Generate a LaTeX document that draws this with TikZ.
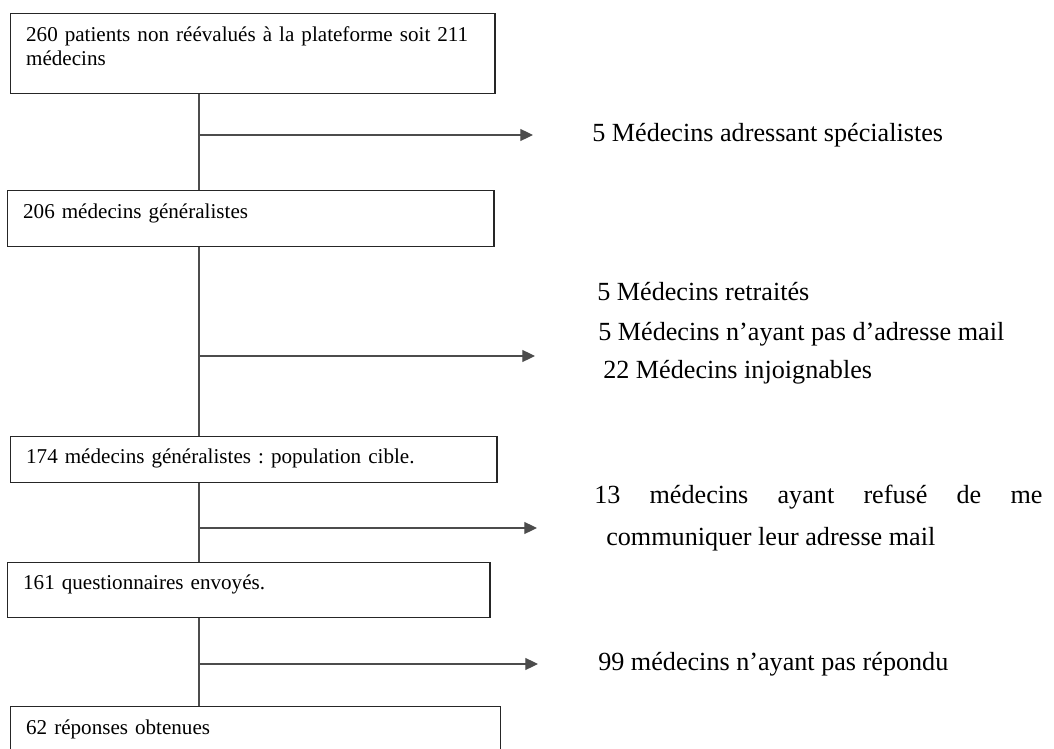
\documentclass[tikz,border=0pt]{standalone}
\usepackage{fontspec}
\setmainfont{Liberation Serif}
\usetikzlibrary{arrows.meta}

\begin{document}
\frenchspacing
\begin{tikzpicture}[x=0.025cm, y=-0.025cm,
  etape/.style={draw, line width=1pt, black!85, text=black, anchor=north west, inner xsep=11pt, inner ysep=0pt,
    align=left, font=\fontsize{15}{16.6}\selectfont},
  motif/.style={anchor=base west, inner sep=0pt, font=\fontsize{18.6}{22}\selectfont},
  lien/.style={line width=0.9pt, black!70},
  fleche/.style={lien, -{Triangle[length=9pt, width=8.5pt]}}]

\useasboundingbox (0,0) rectangle (1054,749);
\clip (0,0) rectangle (1054,749);

% boites du diagramme de flux
\node[etape, text width=322.3pt, text height=19.9pt, text depth=37pt] (b1) at (10,13)
  {260 patients non réévalués à la plateforme soit 211\\médecins};
\node[etape, text width=323.7pt, text height=19.9pt, text depth=19.9pt] (b2) at (7,190)
  {206 médecins généralistes};
\node[etape, text width=323.7pt, text height=19.2pt, text depth=13.5pt] (b3) at (10,436)
  {174 médecins généralistes : population cible.};
\node[etape, text width=320.9pt, text height=19.2pt, text depth=19.9pt] (b4) at (7,562)
  {161 questionnaires envoyés.};
\node[etape, text width=326.5pt, text height=19.9pt, text depth=40pt] (b5) at (10,706)
  {62 réponses obtenues};

% exclusions
\node[motif] (specialistes) at (592,141) {5 Médecins adressant spécialistes};
\node[motif] (retraites) at (597,300) {5 Médecins retraités};
\node[motif] (sansmail) at (598,340) {5 Médecins n’ayant pas d’adresse mail};
\node[motif] (injoignables) at (603,378) {22 Médecins injoignables};
\node[motif] (refus) at (594,503) {\makebox[318.7pt][s]{13 médecins ayant refusé de me}};
\node[motif] (refussuite) at (606,545) {communiquer leur adresse mail};
\node[motif] (sansreponse) at (598,670) {99 médecins n’ayant pas répondu};

\coordinate (axe) at (199,0);
\coordinate (p1) at (533,135);
\coordinate (p2) at (535,356);
\coordinate (p3) at (537,528);
\coordinate (p4) at (538,664);

\draw[lien] (b1.south -| axe) -- (b2.north -| axe);
\draw[lien] (b2.south -| axe) -- (b3.north -| axe);
\draw[lien] (b3.south -| axe) -- (b4.north -| axe);
\draw[lien] (b4.south -| axe) -- (b5.north -| axe);

\draw[fleche] (axe |- p1) -- (p1);
\draw[fleche] (axe |- p2) -- (p2);
\draw[fleche] (axe |- p3) -- (p3);
\draw[fleche] (axe |- p4) -- (p4);

\end{tikzpicture}
\end{document}
